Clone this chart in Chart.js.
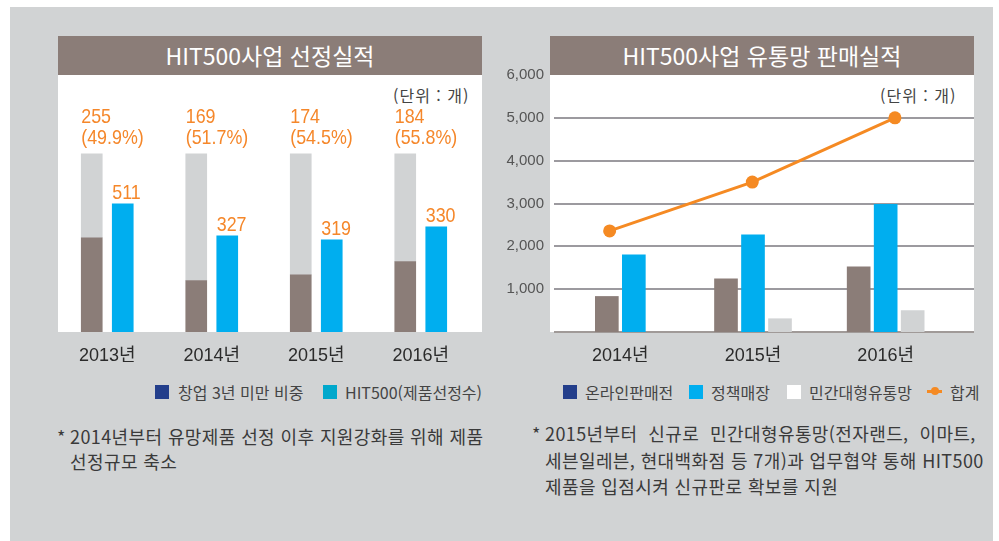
<!DOCTYPE html>
<html lang="ko">
<head>
<meta charset="utf-8">
<script src="https://cdn.jsdelivr.net/npm/chart.js@4.4.1/dist/chart.umd.min.js"></script>
<style>
  html, body { margin: 0; padding: 0; background: #fff; }
  body { width: 999px; height: 541px; position: relative; overflow: hidden;
         font-family: "Noto Sans CJK KR", "Noto Sans", sans-serif; color: #333; }
  .bg { position: absolute; left: 10px; top: 7px; width: 983px; height: 534px; background: #d1d3d4; }
  .title { position: absolute; top: 36px; width: 424px; height: 39px; line-height: 39px;
           background: #8b7d78; color: #fff; text-align: center; font-size: 23px; }
  .panel { position: absolute; top: 75px; width: 424px; height: 257px; background: #fff; }
  .chart { position: absolute; }
  .unit { position: absolute; top: 85px; font-size: 16px; line-height: 20px; color: #444;
          white-space: nowrap; letter-spacing: 1px; }
  .leg { position: absolute; top: 382px; font-size: 16px; line-height: 20px; color: #444; white-space: nowrap; }
  .sw { position: absolute; top: 385px; width: 14px; height: 14px; }
  .note { position: absolute; font-size: 18px; color: #3a3a3a; white-space: pre;
          padding-left: 13px; letter-spacing: 0.4px; }
  .note .ast { position: absolute; left: 0; top: 0; }
</style>
</head>
<body>
<div class="bg"></div>

<!-- left: 선정실적 -->
<div class="title" style="left:58px">HIT500사업 선정실적</div>
<div class="panel" style="left:58px"></div>
<div class="unit" style="left:393px">(단위 : 개)</div>
<canvas id="pickChart" class="chart" width="418" height="287" style="left:55px; top:75px"></canvas>

<div class="sw" style="left:155px; background:#233e8b"></div>
<div class="leg" style="left:178px">창업 3년 미만 비중</div>
<div class="sw" style="left:323px; background:#00a8cc"></div>
<div class="leg" style="left:345px">HIT500(제품선정수)</div>

<div class="note" style="left:57px; top:424px; line-height:25px"><span class="ast">*</span>2014년부터 유망제품 선정 이후 지원강화를 위해 제품
선정규모 축소</div>

<!-- right: 유통망 판매실적 -->
<div class="title" style="left:550px">HIT500사업 유통망 판매실적</div>
<div class="panel" style="left:550px"></div>
<div class="unit" style="left:880px">(단위 : 개)</div>
<canvas id="salesChart" class="chart" width="478" height="306" style="left:496px; top:56px"></canvas>
<!-- the 합계 line sits on its own transparent chart with the same plot area,
     so it does not disturb the bar grouping (skipNull for 2014) -->
<canvas id="totalChart" class="chart" width="478" height="306" style="left:496px; top:56px"></canvas>

<div class="sw" style="left:563px; background:#233e8b"></div>
<div class="leg" style="left:585px">온라인판매전</div>
<div class="sw" style="left:689px; background:#00aeef"></div>
<div class="leg" style="left:711px">정책매장</div>
<div class="sw" style="left:787px; background:#fff"></div>
<div class="leg" style="left:809px">민간대형유통망</div>
<div style="position:absolute; left:927px; top:390px; width:15px; height:3px; background:#f58a23"></div>
<div style="position:absolute; left:931px; top:387px; width:8px; height:8px; border-radius:50%; background:#f58a23"></div>
<div class="leg" style="left:950px">합계</div>

<div class="note" style="left:532px; top:420px; line-height:26.5px"><span class="ast">*</span>2015년부터  신규로  민간대형유통망(전자랜드,  이마트,
세븐일레븐, 현대백화점 등 7개)과 업무협약 통해 HIT500
제품을 입점시켜 신규판로 확보를 지원</div>

<script>
// ---- 선정실적 ----
const pickYears = ['2013년', '2014년', '2015년', '2016년'];
// the original bars are not to scale: heights,
// as % of the full grey bar
const startupBar = [52.9, 28.9, 32.1, 39.6];
const fullBar = [100, 100, 100, 100];
const selectedBar = [72.0, 54.0, 51.8, 59.1];
// numbers printed over the bars
const startupCount = ['255', '169', '174', '184'];
const startupRate = ['(49.9%)', '(51.7%)', '(54.5%)', '(55.8%)'];
const selectedCount = ['511', '327', '319', '330'];

// ---- 유통망 판매실적 ----
const salesYears = ['2014년', '2015년', '2016년'];
const onlineSales = [830, 1240, 1520];
const policyStores = [1800, 2270, 2980];
const retailChains = [null, 310, 500];
const totalSales = [2360, 3500, 5000];

const numFont = '"Liberation Sans", "Noto Sans CJK KR", sans-serif';
const orange = '#f5872a';
const brown = '#8b7d78';
const lightGrey = '#d1d3d4';
const blue = '#00aeef';

Chart.defaults.font.family = numFont;

// narrow orange numbers, squeezed a bit like the original typeface
function narrowText(ctx, text, x, y) {
  ctx.save();
  ctx.translate(x, y);
  ctx.scale(0.85, 1);
  ctx.fillText(text, 0, 0);
  ctx.restore();
}

const pickLabels = {
  id: 'pickLabels',
  afterDatasetsDraw(chart) {
    const ctx = chart.ctx;
    const grey = chart.getDatasetMeta(1).data;
    const sel = chart.getDatasetMeta(2).data;
    ctx.save();
    ctx.fillStyle = orange;
    ctx.font = '21px ' + numFont;
    ctx.textAlign = 'left';
    ctx.textBaseline = 'alphabetic';
    grey.forEach((bar, i) => {
      const left = bar.x - bar.width / 2;
      narrowText(ctx, startupCount[i], left, bar.y - 31);
      narrowText(ctx, startupRate[i], left, bar.y - 10);
    });
    sel.forEach((bar, i) => {
      narrowText(ctx, selectedCount[i], bar.x - bar.width / 2, bar.y - 5);
    });
    ctx.restore();
  }
};

new Chart(document.getElementById('pickChart'), {
  type: 'bar',
  data: {
    labels: pickYears,
    datasets: [
      { label: '창업 3년 미만 비중', data: startupBar, stack: 'total', backgroundColor: brown },
      { label: 'rest', data: fullBar.map((v, i) => v - startupBar[i]), stack: 'total', backgroundColor: lightGrey },
      { label: 'HIT500(제품선정수)', data: selectedBar, stack: 'hit', backgroundColor: blue }
    ]
  },
  options: {
    responsive: false,
    animation: false,
    layout: { padding: 0 },
    datasets: { bar: { barThickness: 31, maxBarThickness: 21 } },
    plugins: { legend: { display: false }, tooltip: { enabled: false } },
    scales: {
      x: {
        grid: { display: false },
        border: { display: false },
        ticks: { color: '#2b2b2b', font: { size: 18 }, padding: 5 },
        afterFit(axis) { axis.height = 30; }
      },
      y: { display: false, stacked: true, min: 0, max: 144.3 }
    }
  },
  plugins: [pickLabels]
});

const sales = new Chart(document.getElementById('salesChart'), {
  type: 'bar',
  data: {
    labels: salesYears,
    datasets: [
      { label: '온라인판매전', data: onlineSales, backgroundColor: brown },
      { label: '정책매장', data: policyStores, backgroundColor: blue },
      { label: '민간대형유통망', data: retailChains, backgroundColor: lightGrey }
    ]
  },
  options: {
    responsive: false,
    animation: false,
    layout: { padding: { top: 15, left: 0, right: 0, bottom: 0 } },
    datasets: { bar: { barThickness: 27, maxBarThickness: 23, skipNull: true } },
    plugins: { legend: { display: false }, tooltip: { enabled: false } },
    scales: {
      x: {
        grid: { display: false },
        border: { display: false },
        ticks: { color: '#2b2b2b', font: { size: 18 }, padding: 5 },
        afterFit(axis) { axis.height = 30; }
      },
      y: {
        position: 'left', min: 0, max: 6000,
        grid: { display: false, drawTicks: false },
        border: { display: false },
        ticks: {
          stepSize: 1000, padding: 10, color: '#555', font: { size: 15 },
          callback: v => v === 0 ? '' : v.toLocaleString('en-US')
        },
        afterFit(axis) { axis.width = 58; }
      },
      yr: {
        position: 'right', min: 0, max: 6000,
        border: { display: false },
        ticks: { display: false, stepSize: 1000 },
        grid: {
          lineWidth: 2, tickLength: 22,
          color: c => c.tick.value === 6000 ? 'rgba(0,0,0,0)' : (c.tick.value === 0 ? '#a09a98' : '#9c9a9f')
        },
        afterFit(axis) { axis.width = 22; }
      }
    }
  }
});

// same plot area as the bar chart: 58px y labels, 22px grid overhang, 30px year labels
const area = sales.chartArea;
new Chart(document.getElementById('totalChart'), {
  type: 'line',
  data: {
    datasets: [{
      label: '합계',
      data: totalSales.map((v, i) => ({ x: i, y: v })),
      borderColor: '#f58a23', backgroundColor: '#f58a23', borderWidth: 3,
      pointRadius: 6.5, pointBorderWidth: 0, pointBackgroundColor: '#f58a23'
    }]
  },
  options: {
    responsive: false,
    animation: false,
    layout: { padding: { top: area.top, left: area.left, right: 478 - area.right, bottom: 306 - area.bottom } },
    plugins: { legend: { display: false }, tooltip: { enabled: false } },
    scales: {
      // the markers in the original sit a bit wider apart than the bar groups
      x: { type: 'linear', display: false, min: -0.39, max: 2.4 },
      y: { display: false, min: 0, max: 6000 }
    }
  }
});
</script>
</body>
</html>
